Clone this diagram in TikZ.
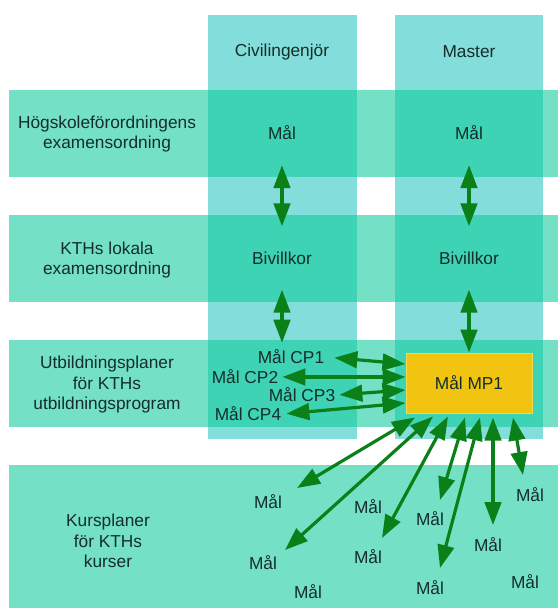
\documentclass[tikz,border=0pt]{standalone}
\usepackage{fontspec}
\setmainfont{Liberation Sans}
\usetikzlibrary{arrows.meta,calc}
\definecolor{colc}{HTML}{82DDDB}
\definecolor{rowc}{HTML}{74E0C6}
\definecolor{crossc}{HTML}{3FD3B6}
\definecolor{arrc}{HTML}{0C8018}
\definecolor{txtc}{HTML}{142E2A}
\definecolor{mpc}{HTML}{F1C412}
\definecolor{mpedge}{HTML}{F6D84A}
\begin{document}
\begin{tikzpicture}[x=1pt,y=-1pt,
  lbl/.style={text=txtc, font=\fontsize{17.3}{20.5}\selectfont, align=center, inner sep=2pt},
  dbl/.style={draw=arrc, line width=3.2pt, {Triangle[length=23pt,width=16.5pt]}-{Triangle[length=23pt,width=16.5pt]}},
  goalbox/.style={fill=mpc, draw=mpedge, line width=1pt, text=txtc, font=\fontsize{17.3}{20}\selectfont, minimum width=126pt, minimum height=60pt, inner sep=0pt}
]
\useasboundingbox (0,0) rectangle (558,608);
% columns
\fill[colc] (208,15) rectangle (357,439);
\fill[colc] (395,15) rectangle (543,439);
% rows and crossings
\foreach \a/\b in {90/177,215/302,340/427}{
  \fill[rowc] (9,\a) rectangle (558,\b);
  \fill[crossc] (208,\a) rectangle (357,\b);
  \fill[crossc] (395,\a) rectangle (543,\b);
}
\fill[rowc] (9,465) rectangle (558,608);

% headers
\node[lbl] (civ) at (282,52) {Civilingenjör};
\node[lbl] (mas) at (469,52) {Master};
\node[lbl] (h1) at (107,134) {Högskoleförordningens\\examensordning};
\node[lbl] (h2) at (107,260) {KTHs lokala\\examensordning};
\node[lbl] (h3) at (107,385) {Utbildningsplaner\\för KTHs\\utbildningsprogram};
\node[lbl] (h4) at (108,541) {Kursplaner\\för KTHs\\kurser};

% level nodes
\node[lbl, minimum height=64pt] (m1) at (282,133) {Mål};
\node[lbl, minimum height=64pt] (m2) at (469,133) {Mål};
\node[lbl, minimum height=63pt] (b1) at (282,258) {Bivillkor};
\node[lbl, minimum height=63pt] (b2) at (469,258) {Bivillkor};
\node[goalbox] (mp1) at (469,383) {Mål MP1};

\node[lbl] (cp1) at (291,357) {Mål CP1};
\node[lbl] (cp2) at (245,377) {Mål CP2};
\node[lbl] (cp3) at (302,395) {Mål CP3};
\node[lbl] (cp4) at (248,414) {Mål CP4};

% course goals
\node[lbl] (k1) at (268,502) {Mål};
\node[lbl] (k2) at (263,563) {Mål};
\node[lbl] (k3) at (308,592) {Mål};
\node[lbl] (k4) at (368,507) {Mål};
\node[lbl] (k5) at (368,557) {Mål};
\node[lbl] (k6) at (430,519) {Mål};
\node[lbl] (k7) at (430,588) {Mål};
\node[lbl] (k8) at (488,545) {Mål};
\node[lbl] (k9) at (530,495) {Mål};
\node[lbl] (k10) at (525,582) {Mål};

% free arrow ends
\coordinate (e1) at (297,488);
\coordinate (e2) at (285,550);
\coordinate (e3) at (382,538);
\coordinate (e4) at (440,500);
\coordinate (e5) at (440,568);
\coordinate (e6) at (493,525);
\coordinate (e7) at (523,475);

% vertical arrows
\draw[dbl] (m1) -- (b1);
\draw[dbl] (m2) -- (b2);
\draw[dbl, shorten >=5pt] (b1) -- (b1 |- cp1.north);
\draw[dbl] (b2) -- (mp1);

% programme arrows
\draw[dbl, shorten <=8pt] (cp1.east) -- ($(mp1.west)+(0,-19)$);
\draw[dbl, shorten <=2pt] (cp2.east) -- ($(mp1.west)+(0,-6)$);
\draw[dbl, shorten <=2pt] (cp3.east) -- ($(mp1.west)+(0,7)$);
\draw[dbl, shorten <=3pt] (cp4.east) -- ($(mp1.west)+(0,20)$);

% course arrows
\draw[dbl] ($(mp1.south)+(-54,4)$) -- (e1);
\draw[dbl] ($(mp1.south)+(-36,3)$) -- (e2);
\draw[dbl] ($(mp1.south)+(-21,3)$) -- (e3);
\draw[dbl] ($(mp1.south)+(-4,4)$) -- (e4);
\draw[dbl] ($(mp1.south)+(11,4)$) -- (e5);
\draw[dbl] ($(mp1.south)+(24,4)$) -- (e6);
\draw[dbl] ($(mp1.south)+(44,4)$) -- (e7);
\end{tikzpicture}
\end{document}
